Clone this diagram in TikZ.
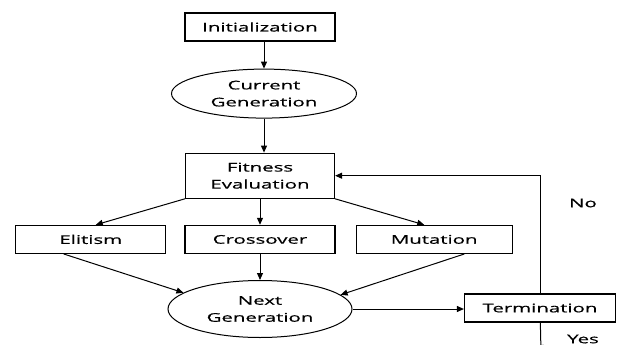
\documentclass[tikz,border=0pt]{standalone}
\usepackage{fontspec}
\setmainfont{Open Sans}[FakeStretch=1.7, FakeBold=0.6]
\usepackage{tikz}
\usetikzlibrary{arrows.meta, positioning, calc, shapes}

\begin{document}
\begin{tikzpicture}[x=1pt, y=-1pt, >={Triangle[length=7pt, width=6pt]},
            box/.style={draw, rectangle, line width=1.2pt, minimum height=28pt, minimum width=150pt,
                inner sep=0pt, align=center, font=\fontsize{12}{17}\selectfont},
            gen/.style={draw, ellipse, line width=1pt, inner sep=0pt, align=center,
                font=\fontsize{12}{17}\selectfont},
            arr/.style={->, line width=1pt}]
            \useasboundingbox (0,0) rectangle (618,345);

            \node[box] (init) at (260,27) {Initialization};
            \node[gen, minimum width=185pt, minimum height=49pt, below=27pt of init, xshift=4pt] (cur) {Current\\Generation};
            \node[box, minimum width=149pt, minimum height=45pt, below=34pt of cur, xshift=-4pt] (fit) {Fitness\\Evaluation};
            \node[box, below=26pt of fit] (cross) {Crossover};
            \node[box, left=18pt of cross] (elit) {Elitism};
            \node[box, minimum width=156pt, right=20pt of cross] (mut) {Mutation};
            \node[gen, minimum width=184pt, minimum height=57pt, below=26pt of cross] (next) {Next\\Generation};
            \node[box, minimum width=151pt] (term) at (540,308) {Termination};
            \node[font=\fontsize{12}{17}\selectfont] (no) at (583,203) {No};
            \node[font=\fontsize{12}{17}\selectfont] (yes) at (583,339) {Yes};
            \coordinate (out) at (541,352);

            \draw[arr] (init.south -| cur) -- (cur);
            \draw[arr] (cur) -- (cur |- fit.north);
            \draw[arr] (fit.south west) -- ($(elit.north)+(5,0)$);
            \draw[arr] (fit) -- (cross);
            \draw[arr] (fit.south east) -- ($(mut.north)+(-10,0)$);
            \draw[arr] ($(elit.south)+(-27,0)$) -- (next.168);
            \draw[arr] (cross) -- (next);
            \draw[arr] ($(mut.south)+(30,0)$) -- (next.10);
            \draw[arr] (next.east) -- (term.west |- next.east);
            \draw[arr] (term.north) |- (fit.east);
            \draw[arr] (term) -- (out);
        \end{tikzpicture}
\end{document}
